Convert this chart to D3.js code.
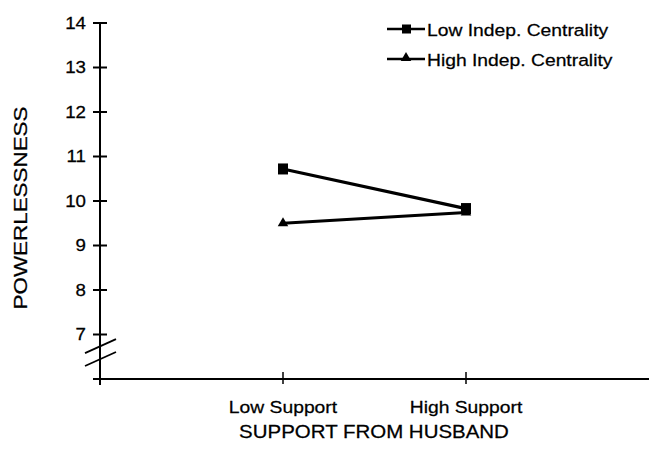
<!DOCTYPE html>
<html>
<head>
<meta charset="utf-8">
<script src="https://cdn.jsdelivr.net/npm/d3@7.9.0/dist/d3.min.js"></script>
<style>
  body { margin: 0; background: #fff; }
  text { font-family: "Liberation Sans", Arial, Helvetica, sans-serif; fill: #000; stroke: #000; stroke-width: 0.25px; }
</style>
</head>
<body>
<svg width="649" height="451"></svg>
<script>
// ---- data ----
const categories = ["Low Support", "High Support"];
const seriesNames = ["Low Indep. Centrality", "High Indep. Centrality"];
const lowIndep = [10.72, 9.83];
const highIndep = [9.5, 9.74];
const yTicks = [7, 8, 9, 10, 11, 12, 13, 14];

const svg = d3.select("svg");
const stretch = 1.17; // text in the scan is a bit wide

// x: index -1 .. 2 so the two categories sit inside a long axis
const x = d3.scaleLinear().domain([-1, 2]).range([100, 649]);
const y = d3.scaleLinear().domain([6, 14]).range([379, 23]);

function wideText(sel) {
  // stretch horizontally around the anchor point
  sel.each(function () {
    const t = d3.select(this);
    const tx = +t.attr("x"), ty = +t.attr("y");
    t.attr("transform", `translate(${tx},${ty}) scale(${stretch},1) translate(${-tx},${-ty})`);
  });
}

// ---- y axis ----
svg.append("line")
  .attr("x1", x(-1)).attr("x2", x(-1))
  .attr("y1", y(14)).attr("y2", y(6) + 6)
  .attr("stroke", "#000").attr("stroke-width", 2);

svg.selectAll(".ytick")
  .data(yTicks)
  .join("line")
  .attr("x1", x(-1) - 7).attr("x2", x(-1) + 7)
  .attr("y1", (d) => y(d)).attr("y2", (d) => y(d))
  .attr("stroke", "#000").attr("stroke-width", 2);

svg.append("line")
  .attr("x1", x(-1) - 7).attr("x2", x(-1))
  .attr("y1", y(6)).attr("y2", y(6))
  .attr("stroke", "#000").attr("stroke-width", 2);

svg.selectAll(".ylab")
  .data(yTicks)
  .join("text")
  .attr("x", x(-1) - 14)
  .attr("y", (d) => y(d))
  .attr("dy", "0.36em")
  .attr("text-anchor", "end")
  .style("font-size", "16px")
  .text((d) => d)
  .call(wideText);

// axis break slashes
[6.74, 6.45].forEach((v) => {
  svg.append("line")
    .attr("x1", x(-1) - 15).attr("y1", y(v) + 7)
    .attr("x2", x(-1) + 16).attr("y2", y(v) - 7)
    .attr("stroke", "#000").attr("stroke-width", 1.8);
});

svg.append("text")
  .attr("x", 20).attr("y", 208)
  .attr("transform", "rotate(-90,20,208)")
  .attr("text-anchor", "middle")
  .attr("dy", "0.36em")
  .attr("textLength", 203)
  .attr("lengthAdjust", "spacingAndGlyphs")
  .style("font-size", "19px")
  .text("POWERLESSNESS");

// ---- x axis ----
svg.append("line")
  .attr("x1", x(-1)).attr("x2", x(2))
  .attr("y1", y(6)).attr("y2", y(6))
  .attr("stroke", "#000").attr("stroke-width", 2);

svg.selectAll(".xtick")
  .data(categories)
  .join("line")
  .attr("x1", (d, i) => x(i)).attr("x2", (d, i) => x(i))
  .attr("y1", y(6) - 7).attr("y2", y(6) + 5)
  .attr("stroke", "#000").attr("stroke-width", 1.5);

svg.selectAll(".xlab")
  .data(categories)
  .join("text")
  .attr("x", (d, i) => x(i))
  .attr("y", 413)
  .attr("text-anchor", "middle")
  .style("font-size", "16.5px")
  .text((d) => d)
  .call(wideText);

svg.append("text")
  .attr("x", 374).attr("y", 438)
  .attr("text-anchor", "middle")
  .style("font-size", "17.5px")
  .text("SUPPORT FROM HUSBAND")
  .call(wideText);

// ---- series ----
const line = d3.line().x((d, i) => x(i)).y((d) => y(d));
const triangle = d3.symbol().type(d3.symbolTriangle).size(48);

svg.append("path").attr("d", line(highIndep))
  .attr("fill", "none").attr("stroke", "#000").attr("stroke-width", 3);
svg.append("path").attr("d", line(lowIndep))
  .attr("fill", "none").attr("stroke", "#000").attr("stroke-width", 3.2);

svg.selectAll(".tri")
  .data(highIndep)
  .join("path")
  .attr("d", triangle)
  .attr("transform", (d, i) => `translate(${x(i)},${y(d)})`)
  .attr("fill", "#000");

svg.selectAll(".sq")
  .data(lowIndep)
  .join("rect")
  .attr("x", (d, i) => x(i) - 5)
  .attr("y", (d) => y(d) - 5.5)
  .attr("width", 10).attr("height", 11)
  .attr("fill", "#000");

// ---- legend ----
const legend = svg.append("g");
seriesNames.forEach((name, idx) => {
  const ly = 29 + idx * 30;
  legend.append("line")
    .attr("x1", 387).attr("x2", 425)
    .attr("y1", ly).attr("y2", ly)
    .attr("stroke", "#000").attr("stroke-width", 2.5);
  if (idx === 0) {
    legend.append("rect")
      .attr("x", 402).attr("y", ly - 4.5)
      .attr("width", 9).attr("height", 9)
      .attr("fill", "#000");
  } else {
    legend.append("path")
      .attr("d", triangle)
      .attr("transform", `translate(406,${ly - 1})`)
      .attr("fill", "#000");
  }
  legend.append("text")
    .attr("x", 427).attr("y", ly + 1)
    .attr("dy", "0.36em")
    .style("font-size", "16.5px")
    .text(name)
    .call(wideText);
});
</script>
</body>
</html>
